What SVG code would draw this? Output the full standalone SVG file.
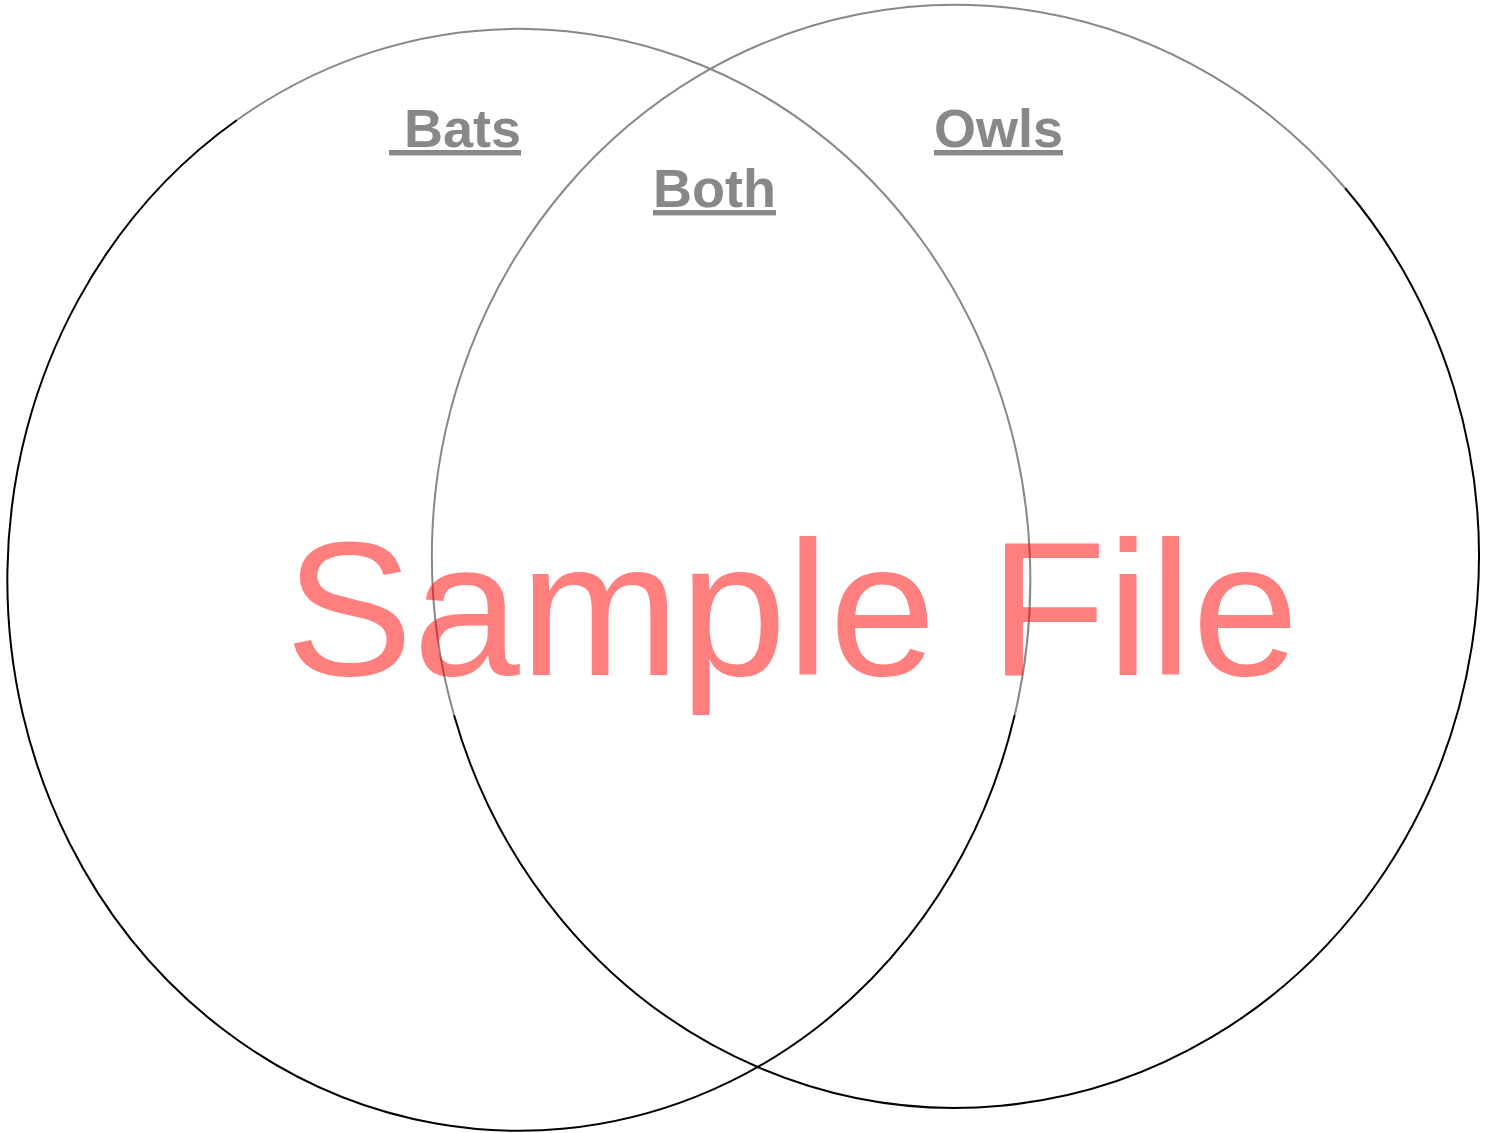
<svg xmlns="http://www.w3.org/2000/svg" width="1490" height="1133" viewBox="0 0 1490 1133">
<style>
.ring{fill:none;stroke:#000;stroke-width:2}
.arc{fill:none;stroke:#888;stroke-width:2}
.lbl{font-family:"Liberation Sans",Arial,sans-serif;font-weight:bold;font-size:54px;fill:#888;text-decoration:underline}
.wm{font-family:"Liberation Sans",Arial,sans-serif;font-size:192px;fill:#ff0000;fill-opacity:0.5}
</style>
<rect width="1490" height="1133" fill="#fff"/>
<g id="bats">
<path class="ring" d="M1014.7,715 A511.5,551 0 1 1 237,120"/>
<path class="arc" d="M237,120 A511.5,551 0 0 1 1014.7,715"/>
<text class="lbl" x="389" y="147" xml:space="preserve"> Bats</text>
</g>
<g id="owls">
<path class="ring" d="M1345,188 A523.5,551.5 0 1 1 454,715"/>
<path class="arc" d="M454,715 A523.5,551.5 0 0 1 1345,188"/>
<text class="lbl" x="934" y="147">Owls</text>
</g>
<g id="both">
<text class="lbl" x="653" y="207">Both</text>
</g>
<g id="connectors"></g>
<text class="wm" x="285" y="675">Sample File</text>
</svg>
